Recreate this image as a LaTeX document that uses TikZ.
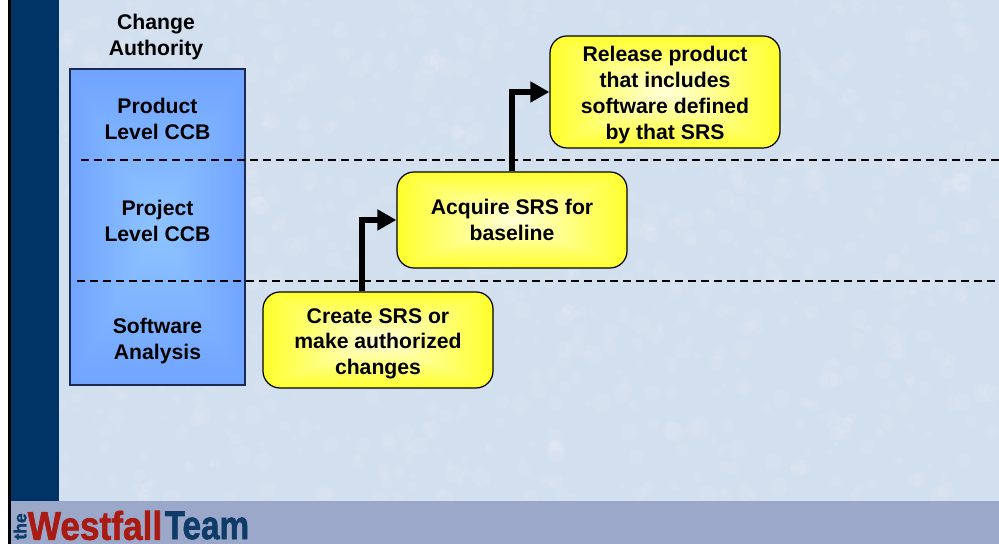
\documentclass[tikz,border=0pt]{standalone}
\usepackage{fontspec}
\usepackage{graphicx}
\setmainfont{Liberation Sans}
\newfontfamily\logofont[FakeBold=1.5]{Liberation Sans Bold}
\usetikzlibrary{arrows.meta}

\pgfdeclarefunctionalshading{yellowglow}{\pgfpoint{-50bp}{-50bp}}{\pgfpoint{50bp}{50bp}}{}{
    abs exch abs 2 copy lt {exch} if pop 50 div 1.6 mul 1 exch sub dup 0 lt {pop 0} if
    0.85 mul 1 exch 1 exch
}
\pgfdeclarefunctionalshading{blueglow}{\pgfpoint{-50bp}{-50bp}}{\pgfpoint{50bp}{50bp}}{}{
    abs exch abs 2 copy lt {exch} if pop 50 div 1.5 mul 1 exch sub dup 0 lt {pop 0} if
    dup 0.16 mul 0.4 add exch 0.17 mul 0.6 add 1
}

\definecolor{paper}{HTML}{D2DFEE}
\definecolor{navy}{HTML}{003366}
\definecolor{footer}{HTML}{9BA8C9}
\definecolor{logored}{HTML}{A81A12}
\definecolor{logonavy}{HTML}{0E3B68}
\definecolor{edgeblue}{HTML}{1A2A50}

\newcommand{\firstline}[1]{\rule{0pt}{#1}}

\tikzset{
    label text/.style={font=\bfseries\fontsize{6.03}{7.37}\selectfont,align=center,text=black},
    logo text/.style={anchor=west,font=\logofont\fontsize{11.4}{11.4}\selectfont,inner sep=0pt},
    task/.style={label text,draw=black,line width=0.35pt,rounded corners=0.17cm,shade,shading=yellowglow,
        minimum width=2.3cm,inner sep=0pt},
    flow/.style={-{Triangle[length=0.19cm,width=0.2cm]},black,line width=1.9pt},
    level/.style={black,line width=0.55pt,dash pattern=on 0.08cm off 0.05cm}
}

\begin{document}
\begin{tikzpicture}
    \useasboundingbox (0,0) rectangle (9.99,5.44);
    % page
    \fill[white] (0,0) rectangle (9.99,5.44);
    \fill[paper] (0.59,0.43) rectangle (9.99,5.44);
    \pgfmathsetseed{7}
    \foreach \i in {1,...,900}
        \fill[white,opacity=0.09] (0.59+9.4*rnd,0.43+5.01*rnd) circle (0.02+0.08*rnd);
    \fill[black] (0.08,0) rectangle (0.11,5.44);
    \fill[navy] (0.11,0.43) rectangle (0.59,5.44);
    \fill[footer] (0.11,0) rectangle (9.99,0.43);
    % logo
    \node[rotate=90,text=logonavy,font=\logofont\fontsize{5}{5}\selectfont,inner sep=0pt] (the) at (0.2,0.175) {the};
    \node[logo text,text=logored] (westfall) at (0.27,0.185) {\scalebox{0.88}[1]{Westfall}};
    \node[logo text,text=logonavy] (team) at (1.64,0.185) {\scalebox{0.83}[1]{Team}};
    % change authority column
    \node[label text] (authority) at (1.56,5.07) {Change\\Authority};
    \node[draw=edgeblue,line width=0.3pt,shade,shading=blueglow,minimum width=1.75cm,minimum height=3.16cm,inner sep=0pt] (column) at (1.575,3.17) {};
    \draw[level] (0.81,3.84) -- (9.99,3.84);
    \draw[level] (0.77,2.63) -- (9.99,2.63);
    \node[label text] (product) at (1.575,4.25) {Product\\Level CCB};
    \node[label text] (project) at (1.575,3.23) {Project\\Level CCB};
    \node[label text] (software) at (1.575,2.03) {Software\\Analysis};
    % tasks
    \node[task,minimum height=1.12cm] (release) at (6.65,4.52) {\firstline{6.1pt}Release product\\that includes\\software defined\\by that SRS};
    \node[task,minimum height=0.96cm] (acquire) at (5.12,3.24) {Acquire SRS for\\baseline};
    \node[task,minimum height=0.96cm] (create) at (3.78,2.04) {\firstline{6.4pt}Create SRS or\\make authorized\\changes};
    \draw[flow] ([xshift=-0.16cm]create.north) |- (acquire.west);
    \draw[flow] (acquire.north) |- (release.west);
\end{tikzpicture}
\end{document}
